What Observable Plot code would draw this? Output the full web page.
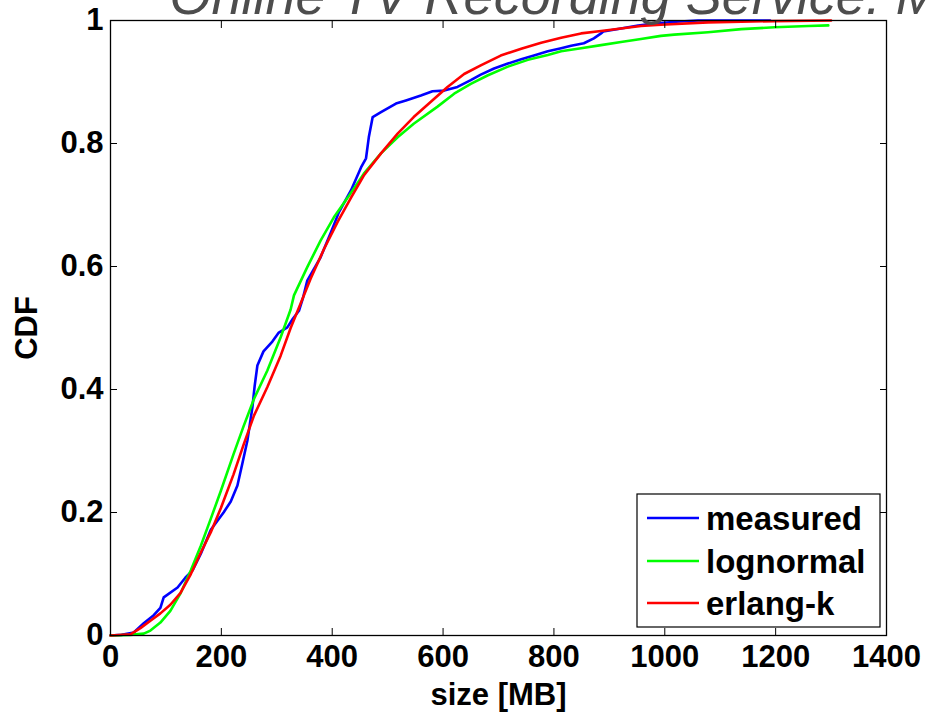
<!DOCTYPE html>
<html>
<head>
<meta charset="utf-8">
<script src="https://cdn.jsdelivr.net/npm/d3@7"></script>
<script src="https://cdn.jsdelivr.net/npm/@observablehq/plot@0.6"></script>
<style>
  html, body { margin: 0; padding: 0; background: #fff; }
  #chart { width: 929px; height: 712px; overflow: hidden; }
</style>
</head>
<body>
<div id="chart"></div>
<script>
// ---- data ----
const titleText = "Online TV Recording Service: Movie Size";
const xLabel = "size [MB]";
const yLabel = "CDF";
const xTicks = [0, 200, 400, 600, 800, 1000, 1200, 1400];
const xTickLabels = ["0", "200", "400", "600", "800", "1000", "1200", "1400"];
const yTicks = [0, 0.2, 0.4, 0.6, 0.8, 1];
const yTickLabels = ["0", "0.2", "0.4", "0.6", "0.8", "1"];
const seriesNames = ["measured", "lognormal", "erlang-k"];
const seriesColors = ["#0000ff", "#00ff00", "#ff0000"];

const measuredSize = [0,20,42,60,78,90,96,121,135,148,163,181,204,217,229,238,247,256,260,265,276,292,303,319,329,340,347,355,379,397,412,434,452,461,466,473,488,515,533,560,581,602,626,650,668,692,717,741,764,789,813,831,854,872,885,889,921,952,981,1020,1060,1190];
const measuredCdf  = [0,0.001,0.005,0.02,0.033,0.045,0.062,0.078,0.094,0.106,0.133,0.172,0.2,0.218,0.244,0.28,0.317,0.371,0.405,0.439,0.462,0.478,0.492,0.501,0.515,0.528,0.548,0.577,0.615,0.654,0.688,0.724,0.761,0.776,0.81,0.843,0.851,0.865,0.87,0.878,0.885,0.886,0.892,0.903,0.912,0.922,0.93,0.937,0.943,0.95,0.955,0.959,0.963,0.971,0.979,0.982,0.987,0.992,0.995,0.998,1,1];

const lognormalSize = [0,36,60,72,90,108,126,145,163,181,199,222,240,259,283,307,325,331,355,379,403,428,457,488,518,547,590,620,650,681,717,753,789,813,849,885,921,957,993,1017,1078,1138,1198,1259,1295];
const lognormalCdf  = [0,0.001,0.003,0.008,0.021,0.04,0.068,0.106,0.146,0.19,0.235,0.295,0.34,0.385,0.431,0.485,0.53,0.553,0.599,0.642,0.68,0.712,0.751,0.784,0.81,0.832,0.86,0.881,0.897,0.911,0.925,0.936,0.944,0.95,0.955,0.96,0.965,0.97,0.975,0.977,0.981,0.986,0.989,0.991,0.992];

const erlangSize = [0,36,54,72,90,108,126,145,163,181,199,222,240,259,283,307,325,343,361,385,410,434,457,488,518,547,578,608,638,668,704,741,777,813,849,885,921,957,993,1078,1198,1300];
const erlangCdf  = [0,0.002,0.012,0.024,0.036,0.05,0.069,0.1,0.135,0.168,0.207,0.262,0.31,0.358,0.404,0.455,0.5,0.54,0.58,0.628,0.673,0.712,0.748,0.784,0.816,0.843,0.868,0.892,0.913,0.927,0.943,0.954,0.964,0.972,0.979,0.983,0.987,0.991,0.993,0.997,0.999,1];

// ---- build tables ----
const toRows = (xs, ys) => xs.map((x, i) => ({size: x, cdf: ys[i]}));
const measured = toRows(measuredSize, measuredCdf);
const lognormal = toRows(lognormalSize, lognormalCdf);
const erlang = toRows(erlangSize, erlangCdf);

const font = "'Liberation Sans', Arial, Helvetica, sans-serif";

const svg = Plot.plot({
  width: 929,
  height: 712,
  marginLeft: 110,
  marginRight: 43,
  marginTop: 20,
  marginBottom: 77,
  style: {fontFamily: font, fontWeight: "bold", fontSize: "31px", color: "black", background: "white", overflow: "visible"},
  x: {domain: [0, 1400]},
  y: {domain: [0, 1]},
  marks: [
    Plot.line(measured, {x: "size", y: "cdf", stroke: seriesColors[0], strokeWidth: 2.6}),
    Plot.line(lognormal, {x: "size", y: "cdf", stroke: seriesColors[1], strokeWidth: 2.6}),
    Plot.line(erlang, {x: "size", y: "cdf", stroke: seriesColors[2], strokeWidth: 2.6}),
    Plot.frame({stroke: "black", strokeWidth: 1.3}),
    Plot.axisX(xTicks, {anchor: "bottom", tickSize: -7, tickPadding: 16, tickFormat: d => xTickLabels[xTicks.indexOf(d)], label: xLabel, labelAnchor: "center", labelOffset: 69, labelArrow: "none", fontSize: 31, fontWeight: "bold"}),
    Plot.axisX(xTicks, {anchor: "top", tickSize: -7, tickFormat: () => "", label: null}),
    Plot.axisY(yTicks, {anchor: "left", tickSize: -7, tickPadding: 14, tickFormat: d => yTickLabels[yTicks.indexOf(d)], label: yLabel, labelAnchor: "center", labelOffset: 96, labelArrow: "none", fontSize: 31, fontWeight: "bold"}),
    Plot.axisY(yTicks, {anchor: "right", tickSize: -7, tickFormat: () => "", label: null}),
    Plot.text([titleText], {frameAnchor: "top-left", dx: 59, dy: -7, lineAnchor: "bottom", textAnchor: "start", fontSize: 54, fontStyle: "italic", fontWeight: "normal", fill: "#4d4d4d"})
  ]
});

// ---- legend ----
const g = d3.select(svg).append("g").attr("font-family", font).attr("text-anchor", "start");
g.append("rect").attr("x", 637).attr("y", 494).attr("width", 243).attr("height", 133)
  .attr("fill", "white").attr("stroke", "black").attr("stroke-width", 1.2);
const legendY = [518, 561, 603];
seriesNames.forEach((name, i) => {
  g.append("line").attr("x1", 647).attr("x2", 699).attr("y1", legendY[i]).attr("y2", legendY[i])
    .attr("stroke", seriesColors[i]).attr("stroke-width", 2.6);
  g.append("text").attr("x", 706).attr("y", legendY[i] + 12).attr("font-size", 33)
    .attr("text-anchor", "start").attr("font-weight", "bold").attr("fill", "black").text(name);
});

document.getElementById("chart").appendChild(svg);
</script>
</body>
</html>
